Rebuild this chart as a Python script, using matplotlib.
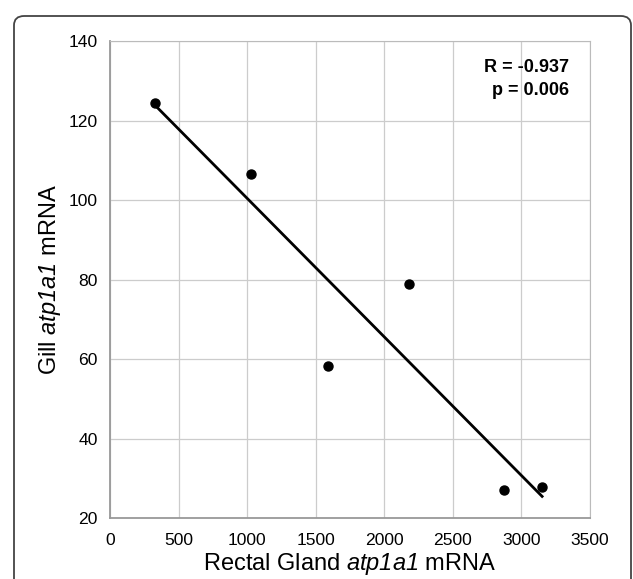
import matplotlib.pyplot as plt
import numpy as np
from matplotlib.patches import FancyBboxPatch

plt.rcParams['font.family'] = ['Liberation Sans', 'DejaVu Sans']
plt.rcParams['mathtext.fontset'] = 'custom'
plt.rcParams['mathtext.it'] = 'Liberation Sans:italic'
# digits inside math come from the rm font, so make it italic too
plt.rcParams['mathtext.rm'] = 'Liberation Sans:italic'

rg_mrna = [328, 1029, 1591, 2182, 2871, 3151]
gill_mrna = [124.4, 106.6, 58.3, 79.0, 27.0, 27.8]
x_ticks = [0, 500, 1000, 1500, 2000, 2500, 3000, 3500]
y_ticks = [20, 40, 60, 80, 100, 120, 140]

fig = plt.figure(figsize=(6.33, 5.79), dpi=100)
ax = fig.add_axes([0.174, 0.105, 0.758, 0.824])

# rounded frame around the panel
frame = FancyBboxPatch((14 / 633, -0.1), 617 / 633, 1.1 - 16 / 579,
                       boxstyle="round,pad=0,rounding_size=0.016",
                       transform=fig.transFigure, fill=False,
                       edgecolor='#444444', linewidth=1.3, clip_on=False)
fig.patches.append(frame)

ax.grid(True, color='#cccccc', linewidth=0.9)
ax.set_axisbelow(True)

slope, icpt = np.polyfit(rg_mrna, gill_mrna, 1)
xs = np.array([min(rg_mrna), max(rg_mrna)])
ax.plot(xs, slope * xs + icpt, color='black', linewidth=2.0, zorder=3)
ax.plot(rg_mrna, gill_mrna, 'o', color='black', markersize=6.5, zorder=4)

ax.set_xlim(0, 3500)
ax.set_ylim(20, 140)
ax.set_xticks(x_ticks)
ax.set_yticks(y_ticks)
ax.tick_params(length=0, labelsize=12.6)
ax.tick_params(axis='y', pad=9)
ax.tick_params(axis='x', pad=11)
for s in ax.spines.values():
    s.set_color('#bbbbbb')
ax.spines['left'].set_color('#999999')
ax.spines['bottom'].set_color('#999999')
ax.spines['left'].set_linewidth(1.3)
ax.spines['bottom'].set_linewidth(1.3)

ax.set_xlabel(r'Rectal Gland $\mathrm{atp1a1}$ mRNA', fontsize=17, labelpad=2)
ax.set_ylabel(r'Gill $\mathrm{atp1a1}$ mRNA', fontsize=17, labelpad=4)

ax.text(0.899, 0.898, 'R = -0.937\np = 0.006', transform=fig.transFigure,
        ha='right', va='top', fontsize=13, fontweight='bold',
        linespacing=1.42)

fig.savefig('out.png', dpi=100)
